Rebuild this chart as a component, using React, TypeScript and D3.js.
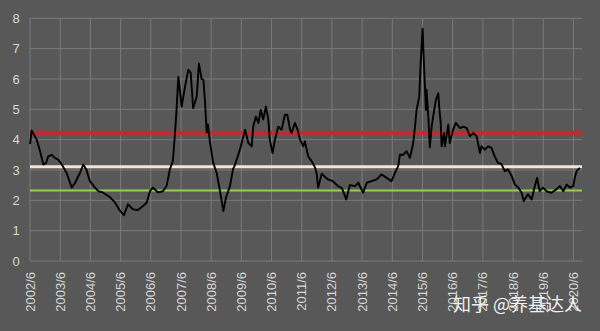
import React from "react";
import * as d3 from "d3";

// decimal years (time) and PE-like values
const years = [
  2002.42, 2002.47, 2002.64, 2002.75, 2002.86, 2002.95, 2003.02, 2003.14, 2003.24, 2003.35,
  2003.47, 2003.63, 2003.80, 2003.91, 2004.07, 2004.18, 2004.29, 2004.40, 2004.57, 2004.68,
  2004.83, 2005.07, 2005.23, 2005.40, 2005.53, 2005.66, 2005.83, 2005.99, 2006.16, 2006.28,
  2006.39, 2006.49, 2006.66, 2006.82, 2006.94, 2007.05, 2007.15, 2007.22, 2007.27, 2007.33,
  2007.38, 2007.44, 2007.55, 2007.66, 2007.74, 2007.82, 2007.94, 2008.01, 2008.10, 2008.16,
  2008.21, 2008.27, 2008.31, 2008.38, 2008.48, 2008.60, 2008.71, 2008.82, 2008.91, 2009.04,
  2009.14, 2009.21, 2009.37, 2009.48, 2009.54, 2009.65, 2009.76, 2009.81, 2009.90, 2009.98,
  2010.06, 2010.14, 2010.23, 2010.31, 2010.36, 2010.45, 2010.53, 2010.64, 2010.75, 2010.86,
  2010.94, 2011.03, 2011.08, 2011.19, 2011.28, 2011.36, 2011.47, 2011.52, 2011.63, 2011.74,
  2011.85, 2011.91, 2011.96, 2012.08, 2012.18, 2012.29, 2012.45, 2012.62, 2012.75, 2012.89,
  2013.01, 2013.18, 2013.29, 2013.45, 2013.57, 2013.73, 2013.90, 2014.06, 2014.23, 2014.39,
  2014.50, 2014.61, 2014.67, 2014.78, 2014.89, 2015.00, 2015.11, 2015.17, 2015.22, 2015.31,
  2015.35, 2015.42, 2015.46, 2015.53, 2015.55, 2015.61, 2015.66, 2015.72, 2015.77, 2015.86,
  2015.94, 2015.97, 2016.02, 2016.05, 2016.13, 2016.16, 2016.27, 2016.32, 2016.43, 2016.52,
  2016.66, 2016.77, 2016.88, 2016.99, 2017.10, 2017.21, 2017.32, 2017.37, 2017.48, 2017.59,
  2017.70, 2017.81, 2017.92, 2018.03, 2018.14, 2018.25, 2018.37, 2018.48, 2018.59, 2018.70,
  2018.77, 2018.91, 2019.03, 2019.14, 2019.21, 2019.30, 2019.41, 2019.52, 2019.69, 2019.85,
  2019.97, 2020.08, 2020.19, 2020.30, 2020.41, 2020.46, 2020.52, 2020.63,
];

const values = [
  3.85, 4.30, 4.00, 3.62, 3.18, 3.23, 3.45, 3.50, 3.40, 3.34,
  3.18, 2.90, 2.42, 2.58, 2.90, 3.18, 3.00, 2.63, 2.42, 2.30,
  2.26, 2.10, 1.93, 1.65, 1.51, 1.87, 1.70, 1.68, 1.81, 1.92,
  2.30, 2.42, 2.26, 2.30, 2.47, 3.02, 3.30, 4.23, 4.98, 6.07,
  5.64, 5.09, 5.74, 6.30, 6.20, 5.04, 5.42, 6.51, 6.00, 5.97,
  5.30, 4.23, 4.50, 3.90, 3.25, 2.90, 2.30, 1.65, 2.10, 2.47,
  3.02, 3.18, 3.67, 4.10, 4.33, 3.89, 3.78, 4.43, 4.76, 4.55,
  4.98, 4.66, 5.09, 4.66, 4.00, 3.56, 4.00, 4.43, 4.33, 4.82,
  4.82, 4.33, 4.22, 4.55, 4.33, 4.00, 3.78, 3.95, 3.45, 3.30,
  3.10, 2.90, 2.42, 2.88, 2.78, 2.69, 2.63, 2.47, 2.40, 2.03,
  2.50, 2.47, 2.58, 2.25, 2.58, 2.63, 2.69, 2.85, 2.74, 2.63,
  2.90, 3.12, 3.50, 3.50, 3.62, 3.40, 3.89, 4.43, 4.98, 5.42,
  6.40, 7.66, 6.62, 4.98, 5.64, 4.76, 3.75, 4.43, 4.76, 5.31,
  5.53, 5.09, 4.55, 3.78, 4.22, 3.78, 4.49, 3.89, 4.33, 4.55,
  4.38, 4.43, 4.38, 4.11, 4.22, 4.11, 3.56, 3.78, 3.67, 3.78,
  3.73, 3.45, 3.23, 3.20, 2.96, 3.02, 2.80, 2.52, 2.42, 2.25,
  1.98, 2.20, 2.03, 2.47, 2.74, 2.30, 2.42, 2.30, 2.25, 2.36,
  2.47, 2.30, 2.52, 2.42, 2.47, 2.74, 2.96, 3.07,
];

const yTicks = [0, 1, 2, 3, 4, 5, 6, 7, 8];
const tickYears = [
  2002, 2003, 2004, 2005, 2006, 2007, 2008, 2009, 2010, 2011,
  2012, 2013, 2014, 2015, 2016, 2017, 2018, 2019, 2020,
];
const tickLabels = tickYears.map((y) => `${y}/6`);
const highLevel = 4.23;
const meanLevel = 3.11;
const lowLevel = 2.32;
const watermark = "知乎 @养基达人";

const W = 600;
const H = 331;
const left = 30;
const right = 582;
const top = 18.3;
const bottom = 261;

export default function App() {
  const x = d3.scaleLinear().domain([2002 + 5 / 12, 2020.7]).range([left, right]);
  const y = d3.scaleLinear().domain([0, 8]).range([bottom, top]);
  const pts: [number, number][] = years.map((t, i) => [t, values[i]]);
  const line = d3
    .line<[number, number]>()
    .x((d) => x(d[0]))
    .y((d) => y(d[1]))
    .curve(d3.curveLinear);

  const font = "'Liberation Sans', Arial, sans-serif";
  const textColor = "#d6d6d6";
  const grid = "#7a7a7a";

  return (
    <svg
      width={W}
      height={H}
      style={{ position: "absolute", left: 0, top: 0, display: "block" }}
      xmlns="http://www.w3.org/2000/svg"
    >
      <rect x={0} y={0} width={W} height={H} fill="#585858" />
      {/* horizontal grid */}
      {yTicks.map((v) => (
        <line key={"h" + v} x1={left} x2={right} y1={y(v)} y2={y(v)} stroke={grid} strokeWidth={1} />
      ))}
      {/* vertical grid */}
      {tickYears.map((yr) => (
        <line
          key={"v" + yr}
          x1={x(yr + 5 / 12)}
          x2={x(yr + 5 / 12)}
          y1={top}
          y2={bottom}
          stroke={grid}
          strokeWidth={1}
        />
      ))}
      {/* reference lines */}
      <line x1={left} x2={right} y1={y(highLevel)} y2={y(highLevel)} stroke="#c8282c" strokeWidth={4} />
      <line x1={left} x2={right} y1={y(meanLevel)} y2={y(meanLevel)} stroke="#f4e4d6" strokeWidth={3} />
      <line x1={left} x2={right} y1={y(lowLevel)} y2={y(lowLevel)} stroke="#92d050" strokeWidth={2} />
      {/* series */}
      <path d={line(pts) || ""} fill="none" stroke="#000" strokeWidth={1.9} strokeLinejoin="round" />
      {/* y labels */}
      {yTicks.map((v) => (
        <text
          key={"yl" + v}
          x={16}
          y={y(v)}
          dy="0.35em"
          textAnchor="middle"
          fontFamily={font}
          fontSize={13}
          fill={textColor}
        >
          {v}
        </text>
      ))}
      {/* x labels */}
      {tickYears.map((yr, i) => {
        const px = x(yr + 5 / 12);
        return (
          <text
            key={"xl" + yr}
            transform={`translate(${px},${272}) rotate(-90)`}
            dy="0.35em"
            textAnchor="end"
            fontFamily={font}
            fontSize={13}
            fill={textColor}
          >
            {tickLabels[i]}
          </text>
        );
      })}
      {/* watermark */}
      <text
        x={582}
        y={305}
        dy="0.35em"
        textAnchor="end"
        fontFamily="'Noto Sans CJK SC', sans-serif"
        fontSize={18}
        fill="#f2f2f2"
      >
        {watermark}
      </text>
    </svg>
  );
}
